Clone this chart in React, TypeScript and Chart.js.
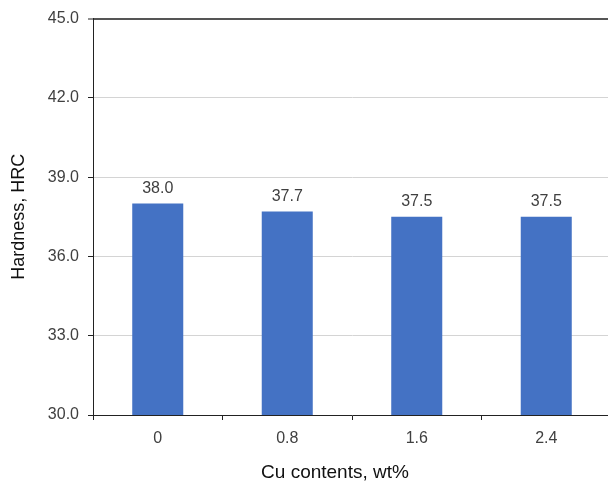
import React, { useEffect, useRef } from "react";
import { Chart, registerables } from "chart.js";

Chart.register(...registerables);

// Hardness of the alloy for each copper addition
const cuContents = ["0", "0.8", "1.6", "2.4"];
const hardnessHRC = [38.0, 37.7, 37.5, 37.5];
const yMin = 30;
const yMax = 45;
const yStep = 3;
const xTitle = "Cu contents, wt%";

const FONT = "'Liberation Sans', Arial, sans-serif";
const TEXT = "#404040";

// Writes each bar's value above it, and the category axis title
const barValueLabels = {
  id: "barValueLabels",
  afterDatasetsDraw(chart: any) {
    const ctx = chart.ctx;
    const meta = chart.getDatasetMeta(0);
    ctx.save();
    ctx.font = `16px ${FONT}`;
    ctx.fillStyle = TEXT;
    ctx.textAlign = "center";
    ctx.textBaseline = "alphabetic";
    meta.data.forEach((bar: any, i: number) => {
      const v = chart.data.datasets[0].data[i] as number;
      ctx.fillText(v.toFixed(1), bar.x, bar.y - 11);
    });

    // axis title sits a little left of the plot centre
    const area = chart.chartArea;
    ctx.font = `19px ${FONT}`;
    ctx.fillStyle = "#111";
    ctx.textBaseline = "middle";
    ctx.fillText(xTitle, (area.left + area.right) / 2 - 17, chart.height - 13);
    ctx.restore();
  },
};

export default function App() {
  const canvasRef = useRef<HTMLCanvasElement | null>(null);

  useEffect(() => {
    if (!canvasRef.current) return;
    const chart = new Chart(canvasRef.current, {
      type: "bar",
      data: {
        labels: cuContents,
        datasets: [
          {
            data: hardnessHRC,
            backgroundColor: "#4472C4",
            borderWidth: 0,
            categoryPercentage: 1,
            barPercentage: 0.394,
          },
        ],
      },
      options: {
        responsive: false,
        animation: false,
        devicePixelRatio: 1,
        layout: { padding: { top: 16, right: 9, bottom: 0, left: 0 } },
        plugins: {
          legend: { display: false },
          tooltip: { enabled: false },
        },
        scales: {
          x: {
            offset: true,
            afterFit(scale: any) {
              scale.height = 71;
            },
            grid: {
              offset: true,
              drawOnChartArea: false,
              drawTicks: true,
              tickLength: 5,
              tickColor: "#222",
            },
            border: { color: "#222", width: 1 },
            ticks: {
              color: TEXT,
              font: { family: FONT, size: 16 },
              padding: 9,
            },
          },
          y: {
            min: yMin,
            max: yMax,
            afterFit(scale: any) {
              scale.width = 93;
            },
            ticks: {
              stepSize: yStep,
              color: TEXT,
              font: { family: FONT, size: 16 },
              padding: 9,
              callback: (v: any) => Number(v).toFixed(1),
            },
            grid: {
              color: (c: any) => (c.tick && c.tick.value === yMax ? "#555" : "#d4d4d4"),
              lineWidth: (c: any) => (c.tick && c.tick.value === yMax ? 2 : 1),
              tickLength: 5,
              tickColor: "#222",
              tickWidth: 1,
            },
            border: { color: "#222", width: 1 },
            title: {
              display: true,
              text: "Hardness, HRC",
              color: "#111",
              font: { family: FONT, size: 18 },
              padding: { top: 8, bottom: 4 },
            },
          },
        },
      },
      plugins: [barValueLabels],
    });
    return () => chart.destroy();
  }, []);

  return (
    <div
      style={{
        position: "fixed",
        left: 0,
        top: 0,
        width: 608,
        height: 486,
        overflow: "hidden",
        background: "#fff",
      }}
    >
      <canvas ref={canvasRef} width={620} height={486} style={{ width: 620, height: 486 }} />
    </div>
  );
}
